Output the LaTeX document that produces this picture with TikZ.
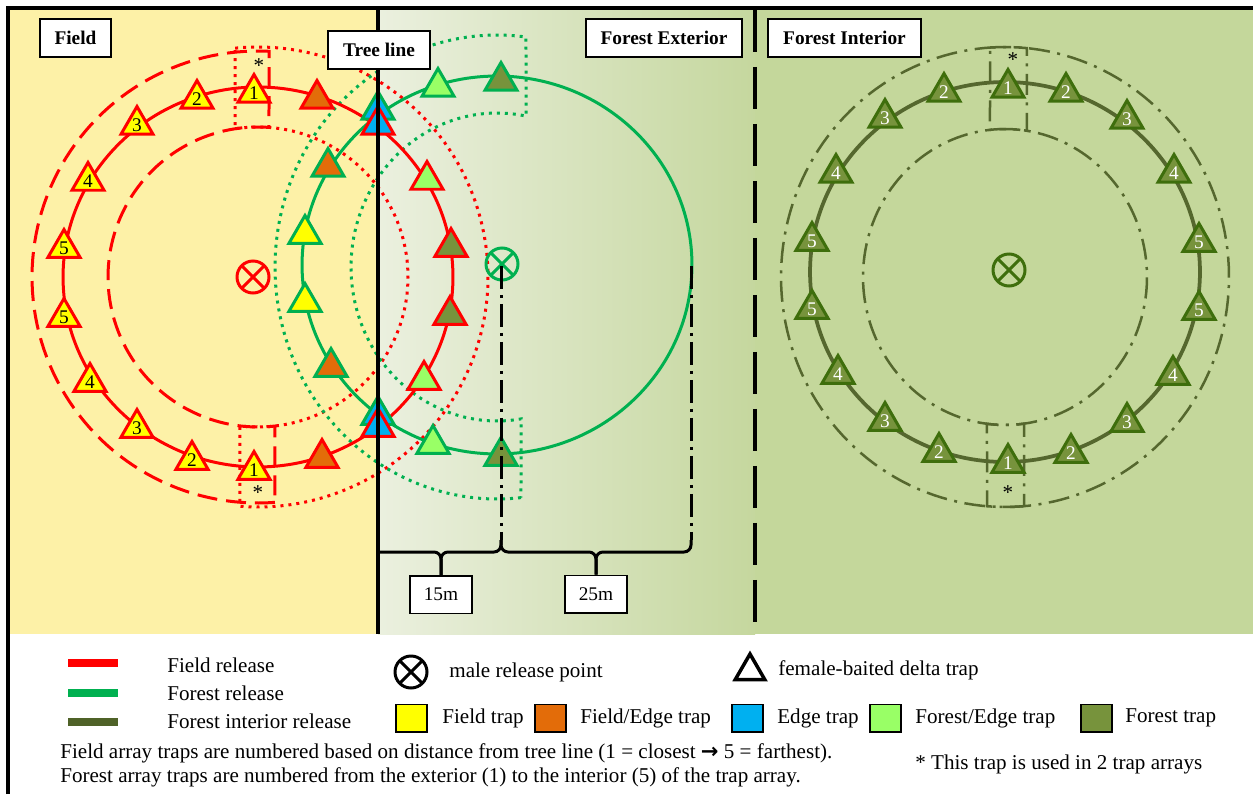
\documentclass[tikz,border=0pt]{standalone}
\usepackage{fontspec}
\setmainfont{Liberation Serif}
\newfontfamily\dejavu{DejaVu Sans}
\usetikzlibrary{shapes.geometric}
\definecolor{fieldbg}{HTML}{FDF1A7}
\definecolor{extL}{HTML}{EBF0DF}
\definecolor{extR}{HTML}{C5D79E}
\definecolor{intbg}{HTML}{C4D79B}
\definecolor{fgreen}{HTML}{00B050}
\definecolor{iline}{HTML}{55672E}
\definecolor{iedge}{HTML}{3E6E0C}
\definecolor{cyel}{HTML}{FFFF00}
\definecolor{corg}{HTML}{E36C09}
\definecolor{cblu}{HTML}{00B0F0}
\definecolor{clgr}{HTML}{99FF66}
\definecolor{colv}{HTML}{77933C}
\definecolor{olvbar}{HTML}{4F6228}
\begin{document}
\begin{tikzpicture}[x=0.02cm,y=-0.02cm,
  trap/.style={regular polygon, regular polygon sides=3, minimum size=0.74cm, inner sep=0pt, line width=0.06cm, draw, line join=miter, font=\fontsize{11}{11}\selectfont},
  rt/.style={trap, draw=red},
  gt/.style={trap, draw=fgreen},
  it/.style={trap, draw=iedge, fill=colv, text=white},
  Y/.style={fill=cyel}, O/.style={fill=corg}, B/.style={fill=cblu}, L/.style={fill=clgr}, V/.style={fill=colv},
  relpt/.style={circle, draw, minimum size=0.64cm, inner sep=0pt, line width=0.06cm,
    path picture={\draw[line width=0.06cm] (path picture bounding box.north west) -- (path picture bounding box.south east) (path picture bounding box.north east) -- (path picture bounding box.south west);}},
  lbl/.style={draw, fill=white, line width=0.03cm, minimum height=0.76cm, inner sep=0pt, font=\fontsize{11}{13}\selectfont\bfseries},
  dimlbl/.style={draw, fill=white, line width=0.03cm, minimum height=0.75cm, minimum width=1.24cm, inner sep=0pt, font=\fontsize{11}{13}\selectfont},
  legtxt/.style={anchor=west, inner sep=0pt, font=\fontsize{12}{14}\selectfont},
  sq/.style={draw, line width=0.03cm, minimum width=0.62cm, minimum height=0.55cm, inner sep=0pt},
  ast/.style={inner sep=0pt, font=\fontsize{12}{12}\selectfont},
  rdot/.style={red, line width=0.06cm, dash pattern=on 0.06cm off 0.1cm},
  rdash/.style={red, line width=0.06cm, dash pattern=on 0.4cm off 0.18cm},
  gdot/.style={fgreen, line width=0.06cm, dash pattern=on 0.06cm off 0.1cm},
  idd/.style={iline, line width=0.05cm, dash pattern=on 0.42cm off 0.15cm on 0.06cm off 0.15cm},
  bdd/.style={black, line width=0.06cm, dash pattern=on 0.46cm off 0.12cm on 0.06cm off 0.12cm},
  brace/.style={black, line width=0.06cm, rounded corners=0.14cm},
]
\useasboundingbox (0,0) rectangle (1253,794);
\fill[white] (0,0) rectangle (1253,794);
\fill[fieldbg] (9,8) rectangle (378,634);
\shade[left color=extL, right color=extR] (378,8) rectangle (755,634);
\fill[intbg] (755,8) rectangle (1253,634);

% ---------- array outlines ----------
\draw[rdash] plot[domain=85.7:272.8,samples=90] ({258+226*cos(\x)},{277+226*sin(\x)})
  -- plot[domain=274.2:83.5,samples=90] ({258+150*cos(\x)},{277+150*sin(\x)}) -- cycle;
\draw[rdot] plot[domain=-95.7:94.5,samples=90] ({258+230*cos(\x)},{277+230*sin(\x)})
  -- plot[domain=96.9:-98.8,samples=90] ({258+150*cos(\x)},{277+150*sin(\x)}) -- cycle;
\draw[gdot] plot[domain=83.8:277.5,samples=90] ({497+222*cos(\x)},{267+232*sin(\x)})
  -- plot[domain=281.5:80.5,samples=90] ({497+146*cos(\x)},{267+154*sin(\x)}) -- cycle;
\draw[idd] plot[domain=85.1:275.6,samples=90] ({1005+224*cos(\x)},{277+230*sin(\x)})
  -- plot[domain=278.9:82.3,samples=90] ({1005+142*cos(\x)},{277+148*sin(\x)}) -- cycle;
\draw[idd] plot[domain=-93.8:94.6,samples=90] ({1005+224*cos(\x)},{277+230*sin(\x)})
  -- plot[domain=97.3:-96.1,samples=90] ({1005+142*cos(\x)},{277+148*sin(\x)}) -- cycle;

% ---------- release circles ----------
\draw[red, line width=0.06cm] (258,277) ellipse[x radius=3.9cm, y radius=3.8cm];
\draw[fgreen, line width=0.06cm] (497,265) ellipse[x radius=3.9cm, y radius=3.78cm];
\draw[iline, line width=0.075cm] (1005,272) ellipse[x radius=3.9cm, y radius=3.8cm];

% ---------- forest release traps ----------
\node[gt,B] (gb1) at (378,110) {};
\node[gt,B] (gb2) at (378,415) {};
\node[gt,Y] (gy1) at (305,234) {};
\node[gt,Y] (gy2) at (305,302) {};
\node[gt,O] (go1) at (328,167) {};
\node[gt,O] (go2) at (331,367) {};
\node[gt,L] (gl1) at (438,87) {};
\node[gt,L] (gl2) at (433,444) {};
\node[gt,V] (gv1) at (501,81) {};
\node[gt,V] (gv2) at (501,456) {};

% ---------- field release traps ----------
\node[rt,Y] (fa1) at (254,93) {1};
\node[rt,Y] (fa2) at (197,99) {2};
\node[rt,Y] (fa3) at (137,125) {3};
\node[rt,Y] (fa4) at (88,181) {4};
\node[rt,Y] (fa5) at (64,248) {5};
\node[rt,Y] (fb5) at (64,317) {5};
\node[rt,Y] (fb4) at (90,382) {4};
\node[rt,Y] (fb3) at (137,428) {3};
\node[rt,Y] (fb2) at (192,460) {2};
\node[rt,Y] (fb1) at (254,470) {1};
\node[rt,O] (fo1) at (317,99) {};
\node[rt,O] (fo2) at (322,458) {};
\node[rt,B] (fe1) at (378,125) {};
\node[rt,B] (fe2) at (378,427) {};
\node[rt,L] (fl1) at (427,180) {};
\node[rt,L] (fl2) at (424,380) {};
\node[rt,V] (fv1) at (451,247) {};
\node[rt,V] (fv2) at (450,315) {};

% ---------- forest interior traps ----------
\node[it] (ia1) at (1008,88) {1};
\node[it] (ia2l) at (944,92) {2};
\node[it] (ia2r) at (1066,92) {2};
\node[it] (ia3l) at (885,118) {3};
\node[it] (ia3r) at (1127,119) {3};
\node[it] (ia4l) at (836,173) {4};
\node[it] (ia4r) at (1174,173) {4};
\node[it] (ia5l) at (812,241) {5};
\node[it] (ia5r) at (1199,242) {5};
\node[it] (ib5l) at (812,309) {5};
\node[it] (ib5r) at (1199,310) {5};
\node[it] (ib4l) at (838,374) {4};
\node[it] (ib4r) at (1173,375) {4};
\node[it] (ib3l) at (885,421) {3};
\node[it] (ib3r) at (1127,422) {3};
\node[it] (ib2l) at (939,452) {2};
\node[it] (ib2r) at (1071,453) {2};
\node[it] (ib1) at (1008,463) {1};

% ---------- release points ----------
\node[relpt, color=red] (relF) at (253,277) {};
\node[relpt, color=fgreen] (relG) at (502,264) {};
\node[relpt, color=iedge] (relI) at (1009,270) {};

% asterisks
\node[ast] (asF1) at (259,66) {*};
\node[ast] (asF2) at (258,493) {*};
\node[ast] (asI1) at (1013,60) {*};
\node[ast] (asI2) at (1008,493) {*};

% ---------- boundaries ----------
\draw[line width=0.08cm] (378,8) -- (378,634);
\draw[line width=0.08cm, dash pattern=on 0.84cm off 0.3cm] (755,10) -- (755,634);
\draw[line width=0.08cm] (8,794) -- (8,8) -- (1253,8);

% ---------- distance markers ----------
\coordinate (d0) at (378,552);
\coordinate (d1top) at (501,266);
\coordinate (d2top) at (691,266);
\coordinate (d1) at (501,540);
\coordinate (d2) at (691,540);
\draw[bdd] (d1top) -- (d1);
\draw[bdd] (d2top) -- (d2);
\node[dimlbl] (m15) at (441,594.5) {15m};
\node[dimlbl] (m25) at (596,594) {25m};
\draw[brace] (d0) -- (441,552) -- (m15.north);
\draw[brace] (d1) -- (501,552) -- (441,552) -- (m15.north);
\draw[brace] (d1) -- (501,552) -- (596,552) -- (m25.north);
\draw[brace] (d2) -- (691,552) -- (596,552) -- (m25.north);

% ---------- region labels ----------
\node[lbl, minimum width=1.42cm] (tField) at (75.5,38) {Field};
\node[lbl, minimum width=2.04cm] (tTree) at (379,50) {Tree line};
\node[lbl, minimum width=3.12cm] (tExt) at (664,38) {Forest Exterior};
\node[lbl, minimum width=3.06cm] (tInt) at (844.5,38) {Forest Interior};

% ---------- legend ----------
\draw[red, line width=0.16cm] (68,663) -- (118,663);
\draw[fgreen, line width=0.16cm] (68,693) -- (118,693);
\draw[olvbar, line width=0.16cm] (68,722) -- (118,722);
\node[legtxt] (lg1) at (167,665) {Field release};
\node[legtxt] (lg2) at (167,693) {Forest release};
\node[legtxt] (lg3) at (167,721) {Forest interior release};
\node[relpt, color=black] (lgRel) at (411,672) {};
\node[legtxt] (lgRelT) at (449,672) {male release point};
\node[trap, draw=black, fill=white, minimum size=0.68cm, line width=0.07cm] (lgTri) at (750,671) {};
\node[legtxt] (lgTriT) at (778,670) {female-baited delta trap};
\node[sq, fill=cyel] (sqY) at (411.5,718) {};
\node[legtxt] (sqYT) at (442,718) {Field trap};
\node[sq, fill=corg] (sqO) at (550.5,718) {};
\node[legtxt] (sqOT) at (580,718) {Field/Edge trap};
\node[sq, fill=cblu] (sqB) at (747.5,718) {};
\node[legtxt] (sqBT) at (777,718) {Edge trap};
\node[sq, fill=clgr] (sqL) at (885.5,718) {};
\node[legtxt] (sqLT) at (915,718) {Forest/Edge trap};
\node[sq, fill=colv] (sqV) at (1096.5,718) {};
\node[legtxt] (sqVT) at (1125,718) {Forest trap};
\node[legtxt] (note1) at (60,753) {Field array traps are numbered based on distance from tree line (1 = closest {\dejavu\bfseries →} 5 = farthest).};
\node[legtxt] (note2) at (60,777) {Forest array traps are numbered from the exterior (1) to the interior (5) of the trap array.};
\node[legtxt] (note3) at (915,764) {* This trap is used in 2 trap arrays};
\end{tikzpicture}
\end{document}
